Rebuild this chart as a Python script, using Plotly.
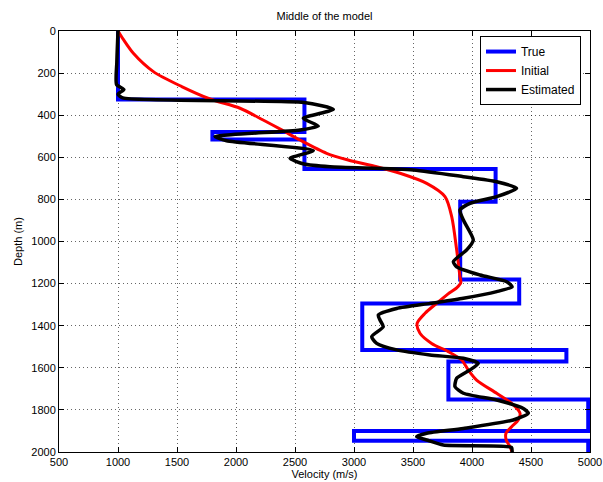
import plotly.graph_objects as go

# ---- data ----
# True model: layer top depths (m) and layer velocities (m/s); last entry closes at 2000 m
true_depth = [0, 325, 480, 515, 655, 811, 1180, 1294, 1515, 1570, 1750, 1900, 1947, 2000]
true_vel = [1000, 2580, 1800, 2580, 4200, 3900, 4400, 3070, 4800, 3800, 4985, 3000, 4985, 4985]

# Initial model
init_depth = [0, 40, 106, 193, 264, 323, 367, 423, 470, 518, 581, 613, 645, 676, 724, 787,
              882, 1040, 1167, 1195, 1220, 1250, 1294, 1341, 1389, 1436, 1484, 1523, 1563,
              1610, 1658, 1721, 1769, 1816, 1848, 1880, 1911, 1943, 1975, 2000]
init_vel = [1000, 1045, 1130, 1300, 1540, 1780, 2034, 2230, 2387, 2542, 2768, 2950, 3192, 3390,
            3616, 3771, 3828, 3870, 3898, 3905, 3870, 3795, 3700, 3602, 3535, 3559, 3658, 3799,
            3912, 3968, 4039, 4209, 4336, 4407, 4392, 4336, 4288, 4290, 4322, 4340]

# Estimated model
est_depth = [0, 150, 255, 278, 300, 318, 340, 372, 415, 451, 470, 502, 521, 568,
             605, 632, 645, 660, 692, 716, 747, 787, 819, 850, 898, 993, 1040, 1096, 1120,
             1159, 1191, 1215, 1238, 1270, 1294, 1318, 1349, 1373, 1405, 1452, 1484, 1515,
             1539, 1555, 1579, 1610, 1650, 1690, 1721, 1753, 1793, 1816, 1848, 1888, 1911,
             1927, 1943, 1967, 1978, 2000]
est_vel = [1000, 990, 988, 1050, 1000, 1040, 2576, 2825, 2570, 2697, 2542, 1822,
           1920, 2655, 2458, 2576, 2797, 3503, 3927, 4209, 4378, 4209, 3983, 3898, 3927, 4011,
           3955, 3842, 3870, 4068, 4294, 4340, 4209, 3927, 3644, 3362, 3206, 3220, 3248, 3150,
           3192, 3362, 3644, 3927, 4053, 3983, 3870, 3856, 3927, 4209, 4435, 4477, 4350, 3927,
           3616, 3531, 3616, 3757, 4334, 4340]

x_ticks = list(range(500, 5001, 500))
y_ticks = list(range(0, 2001, 200))

FONT = "Liberation Sans, Arial, Helvetica, sans-serif"

fig = go.Figure()
fig.add_trace(go.Scatter(x=true_vel, y=true_depth, mode="lines", name="True",
                         line=dict(color="#0000FF", width=4, shape="vh")))
fig.add_trace(go.Scatter(x=init_vel, y=init_depth, mode="lines", name="Initial",
                         line=dict(color="#FF0000", width=3, shape="spline", smoothing=0.8)))
fig.add_trace(go.Scatter(x=est_vel, y=est_depth, mode="lines", name="Estimated",
                         line=dict(color="#000000", width=3.5, shape="spline", smoothing=0.6)))

axis_common = dict(
    showline=True, linecolor="black", linewidth=1, mirror="ticks",
    ticks="inside", ticklen=5, tickcolor="black", tickwidth=1,
    showgrid=True, gridcolor="rgba(0,0,0,0.6)", gridwidth=1, griddash="1px,3px",
    zeroline=False, automargin=False,
    tickfont=dict(family=FONT, size=11, color="black"),
)

fig.update_xaxes(range=[500, 5000], tickvals=x_ticks, ticktext=[str(v) for v in x_ticks],
                 title=dict(text="Velocity (m/s)", font=dict(family=FONT, size=11, color="black"),
                            standoff=0),
                 **axis_common)
fig.update_yaxes(range=[2000, 0], tickvals=y_ticks, ticktext=[str(v) for v in y_ticks],
                 title=dict(text="Depth (m)", font=dict(family=FONT, size=11, color="black"),
                            standoff=6),
                 **axis_common)

fig.update_layout(
    width=603, height=482,
    margin=dict(l=59, r=13, t=31, b=30),
    paper_bgcolor="white", plot_bgcolor="white",
    title=dict(text="Middle of the model", x=0.5381, xanchor="center", y=0.967, yanchor="middle",
               font=dict(family=FONT, size=11, color="black")),
    legend=dict(x=0.983, xanchor="right", y=0.988, yanchor="top",
                bgcolor="white", bordercolor="black", borderwidth=1,
                font=dict(family=FONT, size=12, color="black"),
                tracegroupgap=0, itemwidth=30),
    showlegend=True,
)

fig.write_html("out.html")
